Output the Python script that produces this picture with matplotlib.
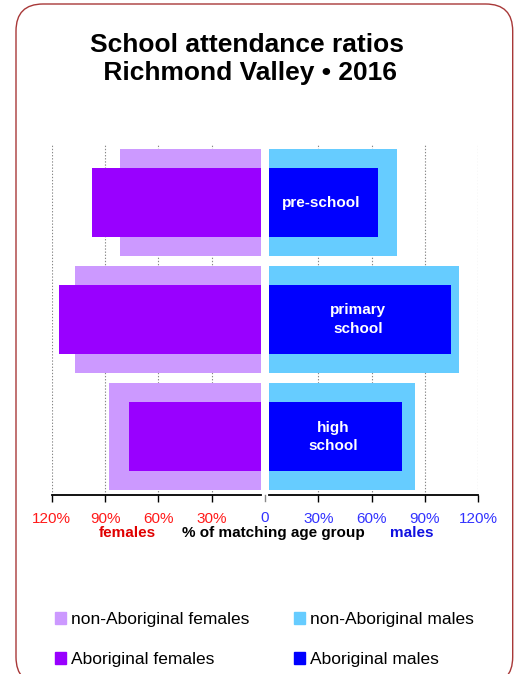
import matplotlib
matplotlib.use('Agg')
import matplotlib.pyplot as plt
from matplotlib.patches import Patch, FancyBboxPatch
from matplotlib.lines import Line2D
import numpy as np

# Data (percent of matching age group)
categories = ['pre-school', 'primary\nschool', 'high\nschool']
females_non_aboriginal = [81.6, 106.9, 87.6]
females_aboriginal = [97.2, 115.9, 76.5]
males_non_aboriginal = [74.3, 109.1, 84.4]
males_aboriginal = [63.6, 104.5, 77.2]
tick_values = [30, 60, 90, 120]
tick_labels = ['30%', '60%', '90%', '120%']

c_fem_non = '#CC99FF'
c_fem_abo = '#9900FF'
c_male_non = '#66CCFF'
c_male_abo = '#0000FF'
red = '#FF1A1A'
blue = '#3333FF'

plt.rcParams['font.family'] = ['Liberation Sans', 'DejaVu Sans']

W, H = 519, 674
fig = plt.figure(figsize=(W / 100, H / 100), dpi=100)

# border with rounded corners (drawn in inches)
border = FancyBboxPatch((0.16, -0.10), 4.967, 6.80, boxstyle='round,pad=0,rounding_size=0.27',
                        transform=fig.dpi_scale_trans, fill=False, edgecolor='#A83838', linewidth=1.0)
fig.add_artist(border)

fig.text(247 / W, 1 - 59 / H, 'School attendance ratios\n Richmond Valley \u2022 2016',
         ha='center', va='center', fontsize=19, fontweight='bold', linespacing=1.25)

ax_top, ax_bot = 144, 495.3
axes_h = (ax_bot - ax_top) / H
ax_f = fig.add_axes([51.7 / W, 1 - ax_bot / H, 209 / W, axes_h])
ax_m = fig.add_axes([269.3 / W, 1 - ax_bot / H, 209 / W, axes_h])

y = np.arange(len(categories))

ax_f.barh(y, females_non_aboriginal, height=0.91, color=c_fem_non, zorder=2)
ax_f.barh(y, females_aboriginal, height=0.59, color=c_fem_abo, zorder=3)
ax_m.barh(y, males_non_aboriginal, height=0.91, color=c_male_non, zorder=2)
ax_m.barh(y, males_aboriginal, height=0.59, color=c_male_abo, zorder=3)

ax_f.set_xlim(120, 2.4)
ax_m.set_xlim(2.4, 120)

for ax, col in ((ax_f, red), (ax_m, blue)):
    ax.set_ylim(len(categories) - 0.5, -0.5)
    ax.set_yticks([])
    for s in ('top', 'left', 'right'):
        ax.spines[s].set_visible(False)
    ax.spines['bottom'].set_linewidth(1.3)
    ax.set_xticks(tick_values)
    ax.set_xticklabels(tick_labels, color=col, fontsize=11)
    ax.tick_params(axis='x', length=5, width=1, pad=7, colors='black', labelcolor=col)
    ax.grid(axis='x', color='#888888', linestyle=(0, (1.2, 1.6)), linewidth=0.8, zorder=0)
    ax.set_axisbelow(True)
    ax.set_facecolor('none')

# category names inside the Aboriginal male bars
for i, name in enumerate(categories):
    ax_m.text(males_aboriginal[i] / 2, i, name, ha='center', va='center', color='white',
              fontsize=11, fontweight='bold', linespacing=1.4)

# zero label and its small tick between the two panels
fig.text(265 / W, 1 - 518 / H, '0', color=blue, fontsize=11, ha='center', va='center')
fig.add_artist(Line2D([265 / W, 265 / W], [1 - 495 / H, 1 - 501 / H], color='#888888', linewidth=1))

fig.text(127.5 / W, 1 - 533 / H, 'females', color='#E00000', fontsize=11, fontweight='bold',
         ha='center', va='center')
fig.text(273 / W, 1 - 533 / H, '% of matching age group', color='black', fontsize=11,
         fontweight='bold', ha='center', va='center')
fig.text(412 / W, 1 - 533 / H, 'males', color='#1010E0', fontsize=11, fontweight='bold',
         ha='center', va='center')

handles = [Patch(color=c_fem_non), Patch(color=c_fem_abo),
           Patch(color=c_male_non), Patch(color=c_male_abo)]
labels = ['non-Aboriginal females', 'Aboriginal females',
          'non-Aboriginal males', 'Aboriginal males']
fig.legend(handles, labels, loc='upper left', bbox_to_anchor=(55 / W, 1 - 612 / H), ncol=2,
           frameon=False, fontsize=12.5, handlelength=0.62, handleheight=0.62,
           handletextpad=0.3, columnspacing=2.56, labelspacing=1.45, borderpad=0, borderaxespad=0)

fig.savefig('out.png', dpi=100)
